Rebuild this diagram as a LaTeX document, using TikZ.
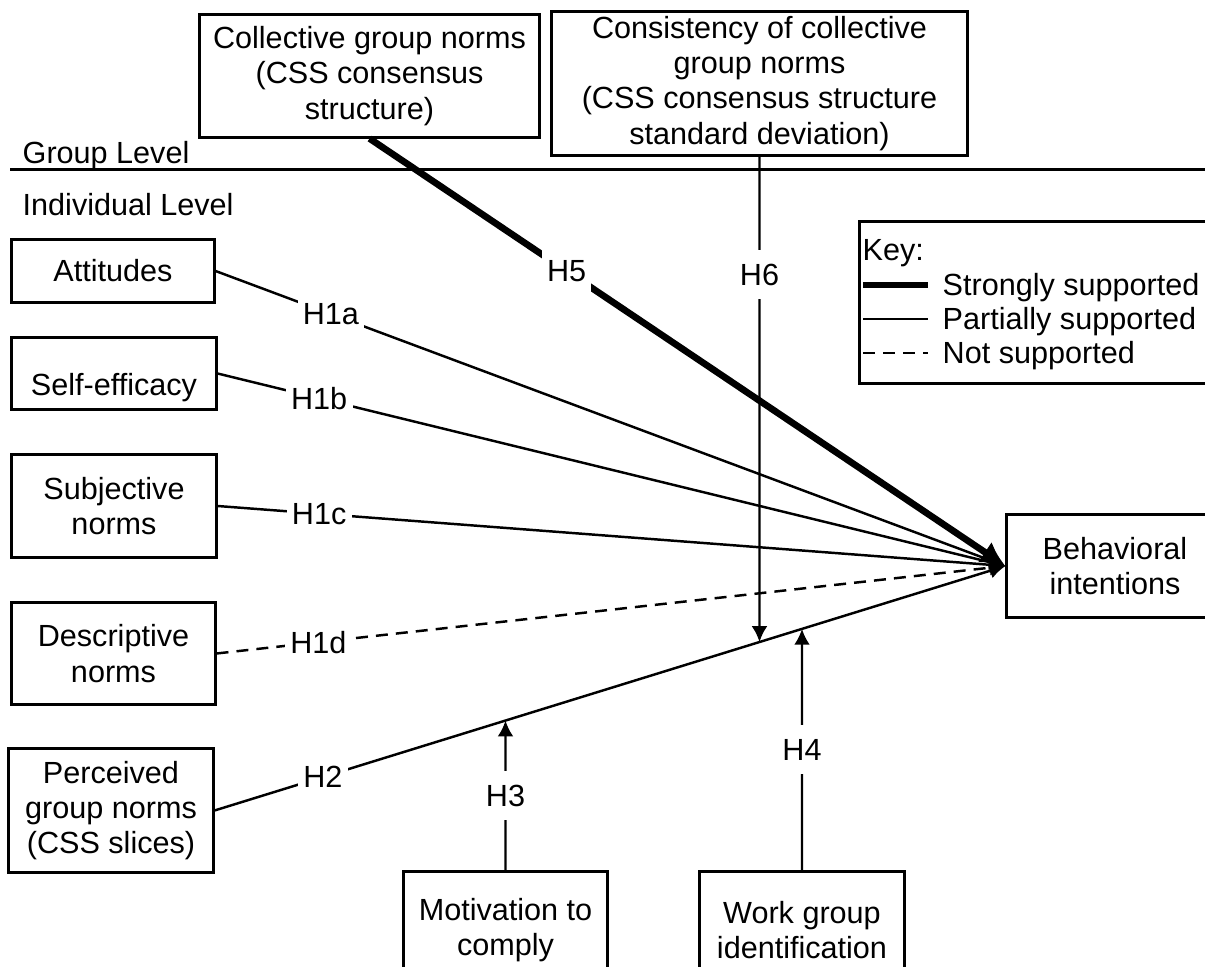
\documentclass[tikz,border=0pt]{standalone}
\usepackage{fontspec}
\setmainfont{Liberation Sans}
\usetikzlibrary{arrows.meta}
\tikzset{
	box/.style={draw,line width=0.85pt,align=center,inner sep=1pt},
	hyp/.style={fill=white,inner xsep=1.5pt,inner ysep=4pt},
	strong/.style={line width=1.9pt,-{Latex[length=7pt,width=7pt]}},
	partial/.style={line width=0.7pt,-{Latex[length=4.5pt,width=4.5pt]}},
	nosup/.style={partial,dash pattern=on 3.4pt off 2.3pt},
}
\begin{document}
\begin{tikzpicture}[x=0.01cm,y=-0.01cm,font=\fontsize{8.7}{10}\selectfont]% MO HINH GIA THUYET
	\useasboundingbox (0,0) rectangle (1205,967);
	\draw[line width=0.85pt] (10,170)--(1210,170);
	\node[anchor=base west,inner sep=0] (grp) at (22,164) {Group Level};
	\node[anchor=base west,inner sep=0] (ind) at (22,216) {Individual Level};
	\node[box,minimum width=3.39cm,minimum height=1.22cm] (col) at (369.5,76) {Collective group norms\\(CSS consensus\\structure)};
	\node[box,minimum width=4.15cm,minimum height=1.43cm] (cons) at (759.5,83.5) {Consistency of collective\\group norms\\(CSS consensus structure\\standard deviation)};
	\node[box,minimum width=2.02cm,minimum height=0.62cm] (att) at (113,271) {Attitudes};
	\node[box,minimum width=2.04cm,minimum height=0.71cm] (self) at (114,373.5) {\raisebox{-1.4mm}[\height][\depth]{Self-efficacy}};
	\node[box,minimum width=2.04cm,minimum height=1.02cm] (subj) at (114,506) {Subjective\\norms};
	\node[box,minimum width=2.03cm,minimum height=1.01cm] (desc) at (113.5,653.5) {Descriptive\\norms};
	\node[box,minimum width=2.04cm,minimum height=1.23cm] (pgn) at (111,810.5) {Perceived\\group norms\\(CSS slices)};
	\node[box,minimum width=2.03cm,minimum height=1.16cm] (mot) at (505.5,930) {Motivation to\\comply};
	\node[box,minimum width=2.04cm,minimum height=1.16cm] (wg) at (802,930) {Work group\\identification};
	\node[box,minimum width=2.16cm,minimum height=1.02cm] (bi) at (1115,566) {Behavioral\\intentions};
	% key
	\node[box,minimum width=3.8cm,minimum height=1.61cm] (key) at (1050,302.5) {};
	\node[anchor=base west,inner sep=0] (kt) at (862,261) {Key:};
	\node[anchor=base west,inner sep=0] (ks) at (942,296) {Strongly supported};
	\node[anchor=base west,inner sep=0] (kp) at (942,330) {Partially supported};
	\node[anchor=base west,inner sep=0] (kn) at (942,364) {Not supported};
	\draw[line width=1.9pt] (863,285)--(928,285);
	\draw[line width=0.7pt] (863,319)--(928,319);
	\draw[line width=0.7pt,dash pattern=on 3.4pt off 2.3pt] (863,353)--(928,353);
	% paths
	\draw[partial] (att.east)--node[hyp,pos=.146]{H1a} (bi.west);
	\draw[partial] (self.east)--node[hyp,pos=.129]{H1b} (bi.west);
	\draw[partial] (subj.east)--node[hyp,pos=.129]{H1c} (bi.west);
	\draw[nosup] (desc.east)--node[hyp,pos=.129]{H1d} (bi.west);
	\draw[partial] (pgn.east)--node[hyp,pos=.137]{H2} (bi.west);
	\draw[strong] (col.south)--node[hyp,pos=.31]{H5} (bi.west);
	\coordinate (c6) at (cons.south |- mot.north);
	\coordinate (c3) at (mot.north |- cons.south);
	\coordinate (c4) at (wg.north |- cons.south);
	\coordinate (h6) at (intersection of pgn.east--bi.west and cons.south--c6);
	\coordinate (h3) at (intersection of pgn.east--bi.west and mot.north--c3);
	\coordinate (h4) at (intersection of pgn.east--bi.west and wg.north--c4);
	\draw[partial] (cons.south)--node[hyp,pos=.243]{H6} (h6);
	\draw[partial] (mot.north)--node[hyp,pos=.5]{H3} (h3);
	\draw[partial] (wg.north)--node[hyp,pos=.5]{H4} (h4);
\end{tikzpicture}
\end{document}
